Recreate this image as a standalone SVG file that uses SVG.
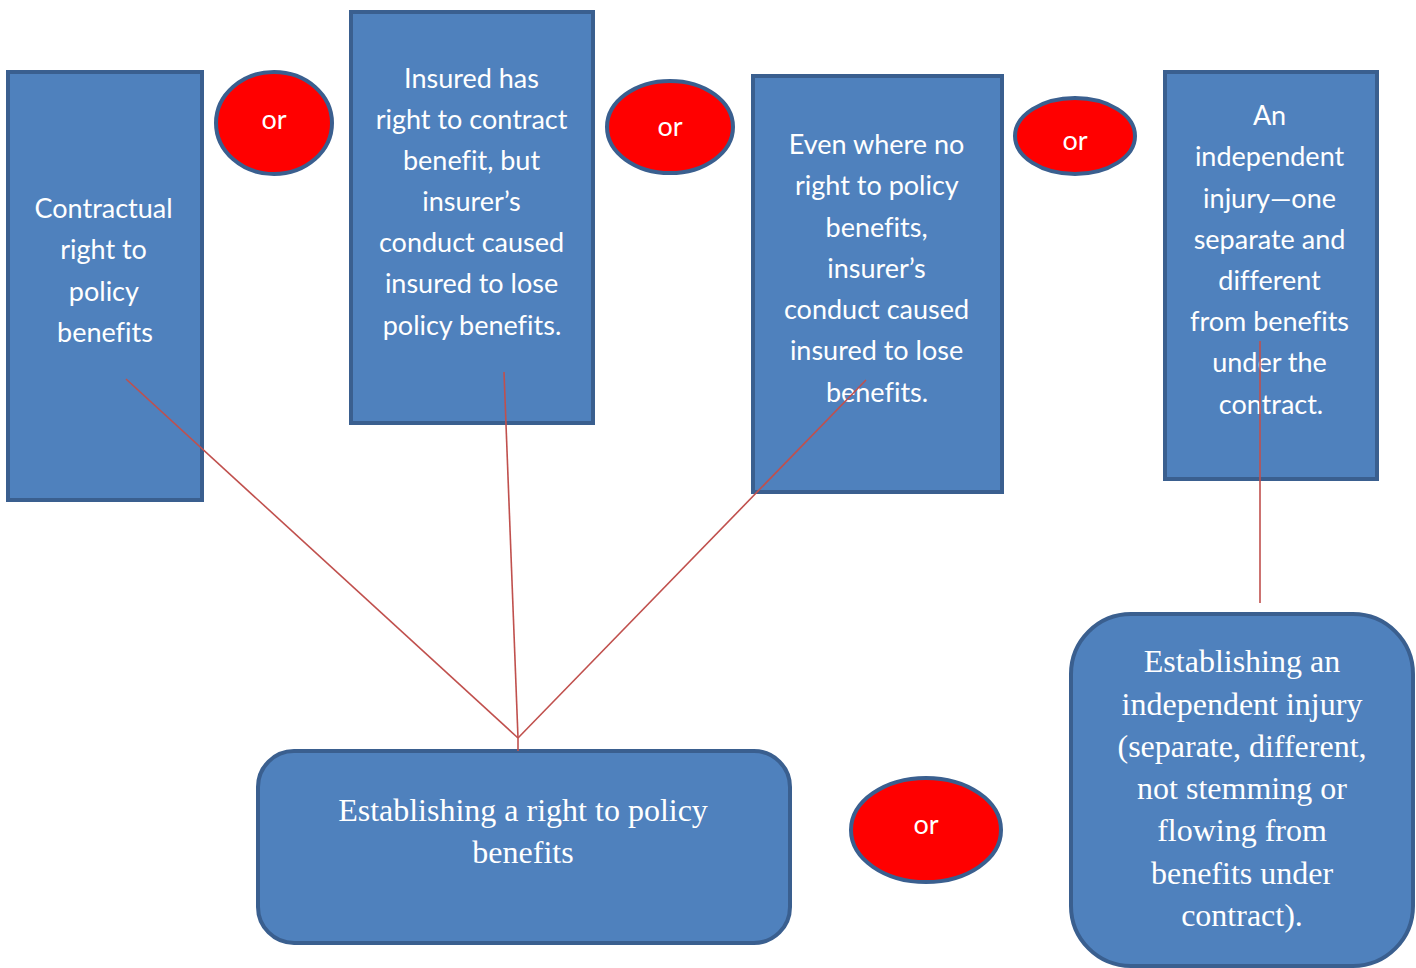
<svg xmlns="http://www.w3.org/2000/svg" width="1416" height="968" viewBox="0 0 1416 968">
  <style>
    .box { fill: #4f81bd; stroke: #3a5f8f; stroke-width: 4; }
    .or { fill: #ff0000; stroke: #3a5f8f; stroke-width: 4; }
    .sans { font-family: Lato, "Open Sans", "Liberation Sans", sans-serif; font-size: 27px; fill: #ffffff; text-anchor: middle; font-variant-ligatures: none; }
    .serif { font-family: "Liberation Serif", "Times New Roman", serif; font-size: 32px; fill: #ffffff; text-anchor: middle; }
    .link { stroke: #c0504d; stroke-width: 1.6; fill: none; }
  </style>

  <!-- top row of condition boxes -->
  <g id="contractual-right">
    <rect class="box" x="8" y="72" width="194" height="428"/>
    <text class="sans">
      <tspan x="107" y="218">Contractual</tspan>
      <tspan x="107" y="259">right to</tspan>
      <tspan x="107" y="301">policy</tspan>
      <tspan x="105" y="342">benefits</tspan>
    </text>
  </g>

  <g id="or-1">
    <ellipse class="or" cx="274" cy="123" rx="58" ry="51"/>
    <text class="sans" x="274" y="129">or</text>
  </g>

  <g id="insurer-conduct-lost">
    <rect class="box" x="351" y="12" width="242" height="411"/>
    <text class="sans">
      <tspan x="475" y="88">Insured has</tspan>
      <tspan x="475" y="129">right to contract</tspan>
      <tspan x="475" y="170">benefit, but</tspan>
      <tspan x="475" y="211">insurer’s</tspan>
      <tspan x="475" y="252">conduct caused</tspan>
      <tspan x="475" y="293">insured to lose</tspan>
      <tspan x="472" y="335">policy benefits.</tspan>
    </text>
  </g>

  <g id="or-2">
    <ellipse class="or" cx="670" cy="127" rx="63" ry="46"/>
    <text class="sans" x="670" y="136">or</text>
  </g>

  <g id="no-right-conduct">
    <rect class="box" x="753" y="76" width="249" height="416"/>
    <text class="sans">
      <tspan x="880" y="154">Even where no</tspan>
      <tspan x="880" y="195">right to policy</tspan>
      <tspan x="880" y="237">benefits,</tspan>
      <tspan x="880" y="278">insurer’s</tspan>
      <tspan x="880" y="319">conduct  caused</tspan>
      <tspan x="880" y="360">insured to lose</tspan>
      <tspan x="877" y="402">benefits.</tspan>
    </text>
  </g>

  <g id="or-3">
    <ellipse class="or" cx="1075" cy="136" rx="60" ry="38"/>
    <text class="sans" x="1075" y="150">or</text>
  </g>

  <g id="independent-injury">
    <rect class="box" x="1165" y="72" width="212" height="407"/>
    <text class="sans">
      <tspan x="1273" y="125">An</tspan>
      <tspan x="1273" y="166">independent</tspan>
      <tspan x="1273" y="208">injury—one</tspan>
      <tspan x="1273" y="249">separate and</tspan>
      <tspan x="1273" y="290">different</tspan>
      <tspan x="1273" y="331">from benefits</tspan>
      <tspan x="1273" y="372">under the</tspan>
      <tspan x="1271" y="414">contract.</tspan>
    </text>
  </g>

  <!-- bottom row of outcome boxes -->
  <g id="establish-right">
    <rect class="box" x="258" y="751" width="532" height="192" rx="36" ry="36"/>
    <text class="serif">
      <tspan x="527" y="821">Establishing a right to policy</tspan>
      <tspan x="523" y="863">benefits</tspan>
    </text>
  </g>

  <g id="or-4">
    <ellipse class="or" cx="926" cy="830" rx="75" ry="52"/>
    <text class="sans" x="926" y="834">or</text>
  </g>

  <g id="establish-injury">
    <rect class="box" x="1071" y="614" width="342" height="352" rx="60" ry="60"/>
    <text class="serif">
      <tspan x="1246" y="672">Establishing an</tspan>
      <tspan x="1246" y="715">independent injury</tspan>
      <tspan x="1246" y="757">(separate, different,</tspan>
      <tspan x="1246" y="799">not stemming or</tspan>
      <tspan x="1246" y="841">flowing from</tspan>
      <tspan x="1246" y="884">benefits under</tspan>
      <tspan x="1242" y="926">contract).</tspan>
    </text>
  </g>

  <!-- connectors -->
  <g id="connectors">
    <line class="link" x1="126" y1="379" x2="518" y2="738"/>
    <line class="link" x1="504" y1="372" x2="518" y2="738"/>
    <line class="link" x1="866" y1="380" x2="518" y2="738"/>
    <line class="link" x1="518" y1="738" x2="518" y2="751"/>
    <line class="link" x1="1260" y1="341" x2="1260" y2="603"/>
  </g>
</svg>
